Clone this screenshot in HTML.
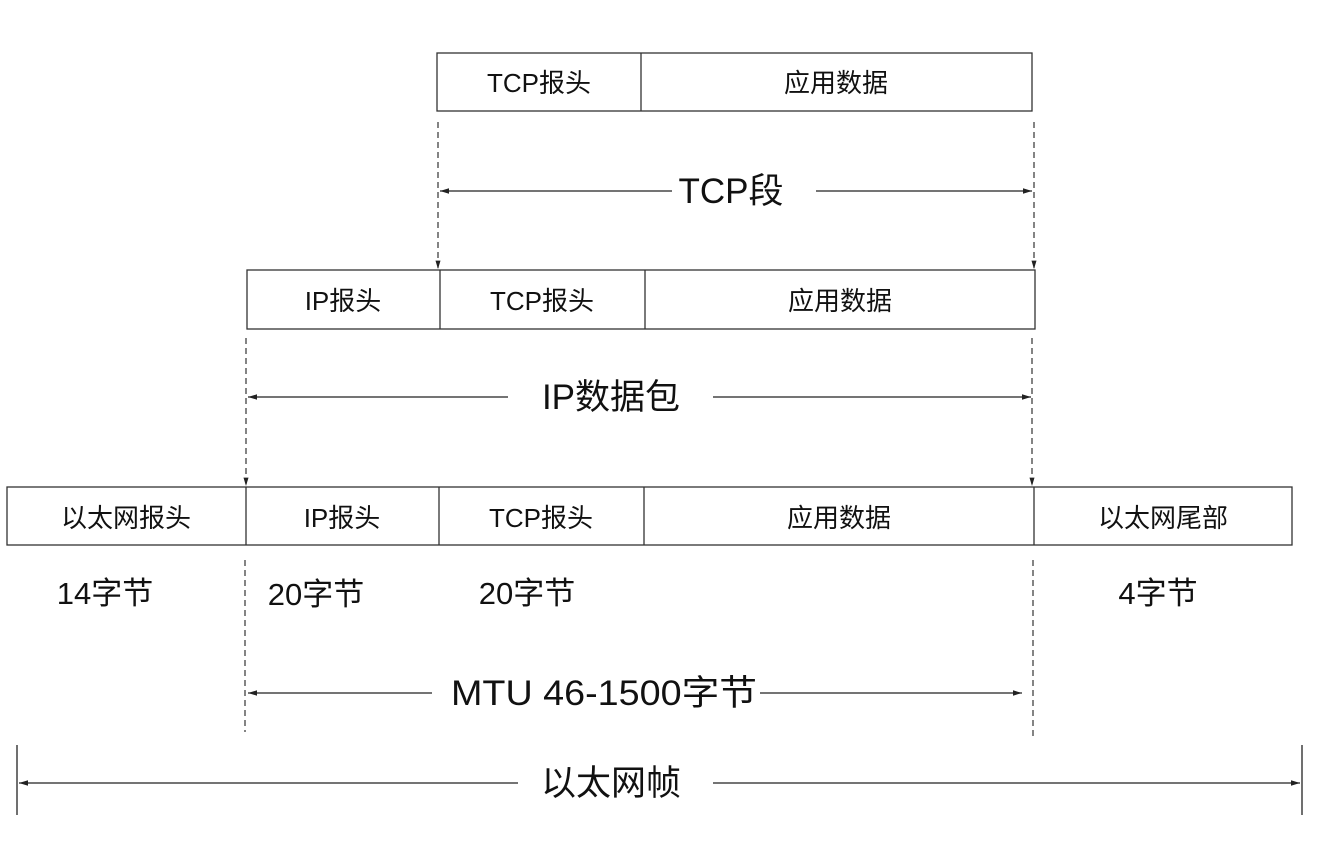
<!DOCTYPE html>
<html><head><meta charset="utf-8"><style>
html,body{margin:0;padding:0;background:#fff;}
svg{display:block;font-family:"Liberation Sans","Noto Sans CJK SC",sans-serif;}
</style></head><body>
<svg width="1318" height="842" viewBox="0 0 1318 842" xmlns="http://www.w3.org/2000/svg">
<defs>
<marker id="a" viewBox="0 0 10 10" refX="10" refY="5" markerWidth="7" markerHeight="7" orient="auto-start-reverse"><path d="M0,2 L10,5 L0,8 z" fill="#222"/></marker>
</defs>
<g stroke="#333" stroke-width="1.3" fill="#fff">
<rect x="437" y="53" width="595" height="58"/>
<line x1="641" y1="53" x2="641" y2="111"/>
<rect x="247" y="270" width="788" height="59"/>
<line x1="440" y1="270" x2="440" y2="329"/><line x1="645" y1="270" x2="645" y2="329"/>
<rect x="7" y="487" width="1285" height="58"/>
<line x1="246" y1="487" x2="246" y2="545"/><line x1="439" y1="487" x2="439" y2="545"/>
<line x1="644" y1="487" x2="644" y2="545"/><line x1="1034" y1="487" x2="1034" y2="545"/>
</g>
<g stroke="#333" stroke-width="1.2" stroke-dasharray="6,4" fill="none">
<line x1="438" y1="122" x2="438" y2="269" marker-end="url(#a)"/>
<line x1="1034" y1="122" x2="1034" y2="269" marker-end="url(#a)"/>
<line x1="246" y1="338" x2="246" y2="486" marker-end="url(#a)"/>
<line x1="1032" y1="338" x2="1032" y2="486" marker-end="url(#a)"/>
<line x1="245" y1="560" x2="245" y2="732"/>
<line x1="1033" y1="560" x2="1033" y2="740"/>
</g>
<g stroke="#222" stroke-width="1.3" fill="none">
<line x1="440" y1="191" x2="672" y2="191" marker-start="url(#a)"/>
<line x1="816" y1="191" x2="1032" y2="191" marker-end="url(#a)"/>
<line x1="248" y1="397" x2="508" y2="397" marker-start="url(#a)"/>
<line x1="713" y1="397" x2="1031" y2="397" marker-end="url(#a)"/>
<line x1="248" y1="693" x2="432" y2="693" marker-start="url(#a)"/>
<line x1="760" y1="693" x2="1022" y2="693" marker-end="url(#a)"/>
<line x1="19" y1="783" x2="518" y2="783" marker-start="url(#a)"/>
<line x1="713" y1="783" x2="1300" y2="783" marker-end="url(#a)"/>
<line x1="17" y1="745" x2="17" y2="815"/>
<line x1="1302" y1="745" x2="1302" y2="815"/>
</g>
<g fill="#111" font-size="26" text-anchor="middle">
<text x="539" y="92">TCP报头</text><text x="836" y="92">应用数据</text>
<text x="343" y="310">IP报头</text><text x="542" y="310">TCP报头</text><text x="840" y="310">应用数据</text>
<text x="126" y="527">以太网报头</text><text x="342" y="527">IP报头</text><text x="541" y="527">TCP报头</text><text x="839" y="527">应用数据</text><text x="1163" y="527">以太网尾部</text>
</g>
<g fill="#111" font-size="31" text-anchor="middle">
<text x="105" y="604">14字节</text><text x="316" y="605">20字节</text><text x="527" y="604">20字节</text><text x="1158" y="604">4字节</text>
</g>
<g fill="#111" font-size="35" text-anchor="middle">
<text x="731" y="203">TCP段</text>
<text x="611" y="409">IP数据包</text>
<text x="604" y="705" textLength="306" lengthAdjust="spacingAndGlyphs">MTU 46-1500字节</text>
<text x="611" y="795">以太网帧</text>
</g>
</svg>
</body></html>
